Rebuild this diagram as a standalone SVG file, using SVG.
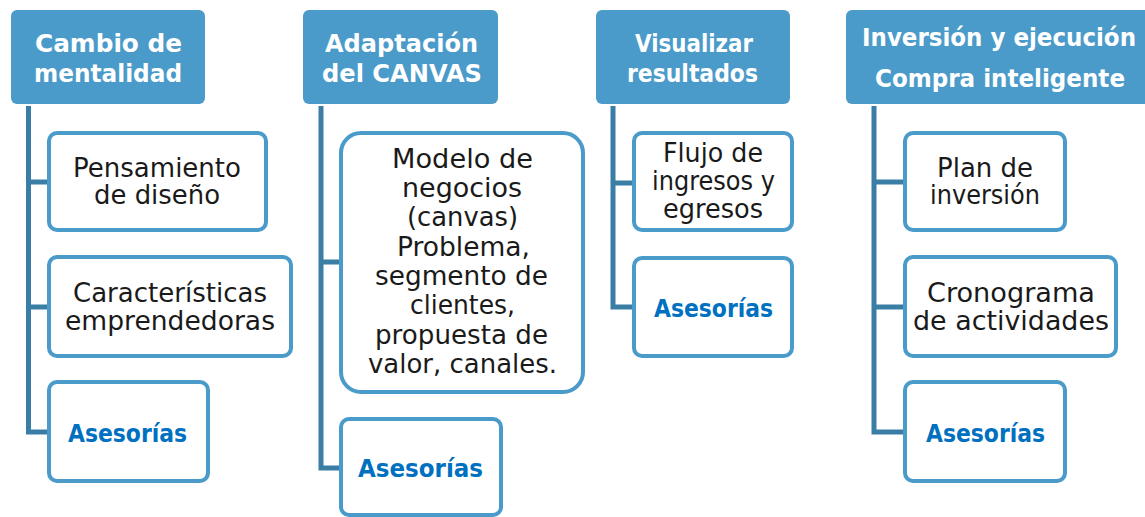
<svg xmlns="http://www.w3.org/2000/svg" width="1145" height="517" viewBox="0 0 1145 517">
<style>
.hd{fill:#4A9BCA;}
.bx{fill:#fff;stroke:#4A9BCA;stroke-width:4;}
.ln{fill:none;stroke:#3A7EA6;stroke-width:5;stroke-linejoin:miter;}
.ht{font-family:"DejaVu Sans",sans-serif;font-weight:bold;font-size:25.5px;fill:#fff;text-anchor:middle;}
.t{font-family:"DejaVu Sans",sans-serif;font-size:26px;fill:#1a1a1a;text-anchor:middle;}
.a{font-family:"DejaVu Sans",sans-serif;font-weight:bold;font-size:25px;fill:#0070C0;text-anchor:middle;}
</style>
<rect width="1145" height="517" fill="#fff"/>
<g id="connectors">
<path class="ln" d="M28.5,106 V432 H47 M28.5,182 H47 M28.5,307 H47"/>
<path class="ln" d="M321,106 V468 H339 M321,262 H339"/>
<path class="ln" d="M613,106 V307 H632 M613,183 H632"/>
<path class="ln" d="M874,106 V432 H903 M874,182 H903 M874,307 H903"/>
</g>
<g id="h1"><rect class="hd" x="11" y="10" width="194" height="94" rx="6"/>
<text class="ht" x="108.5" y="52" textLength="147" lengthAdjust="spacingAndGlyphs">Cambio de</text>
<text class="ht" x="108" y="82" textLength="148" lengthAdjust="spacingAndGlyphs">mentalidad</text></g>
<g id="c1a"><rect class="bx" x="49" y="133" width="217" height="97" rx="8"/>
<text class="t" x="157" y="177" textLength="168" lengthAdjust="spacingAndGlyphs">Pensamiento</text>
<text class="t" x="157" y="204" textLength="126" lengthAdjust="spacingAndGlyphs">de diseño</text></g>
<g id="c1b"><rect class="bx" x="49" y="257" width="242" height="99" rx="8"/>
<text class="t" x="170" y="302" textLength="194" lengthAdjust="spacingAndGlyphs">Características</text>
<text class="t" x="170" y="330" textLength="210" lengthAdjust="spacingAndGlyphs">emprendedoras</text></g>
<g id="c1c"><rect class="bx" x="49" y="382" width="159" height="99" rx="8"/>
<text class="a" x="127.5" y="442" textLength="119" lengthAdjust="spacingAndGlyphs">Asesorías</text></g>

<g id="h2"><rect class="hd" x="303" y="10" width="195" height="94" rx="6"/>
<text class="ht" x="401.5" y="52" textLength="153" lengthAdjust="spacingAndGlyphs">Adaptación</text>
<text class="ht" x="402" y="82" textLength="160" lengthAdjust="spacingAndGlyphs">del CANVAS</text></g>
<g id="c2a"><rect class="bx" x="341" y="133" width="242" height="259" rx="20"/>
<text class="t" x="462.5" y="168" textLength="141" lengthAdjust="spacingAndGlyphs">Modelo de</text>
<text class="t" x="462" y="197" textLength="120" lengthAdjust="spacingAndGlyphs">negocios</text>
<text class="t" x="462.5" y="226" textLength="111" lengthAdjust="spacingAndGlyphs">(canvas)</text>
<text class="t" x="463.5" y="256" textLength="133" lengthAdjust="spacingAndGlyphs">Problema,</text>
<text class="t" x="461.5" y="285" textLength="173" lengthAdjust="spacingAndGlyphs">segmento de</text>
<text class="t" x="462.5" y="314" textLength="105" lengthAdjust="spacingAndGlyphs">clientes,</text>
<text class="t" x="461.5" y="344" textLength="173" lengthAdjust="spacingAndGlyphs">propuesta de</text>
<text class="t" x="462.5" y="373" textLength="189" lengthAdjust="spacingAndGlyphs">valor, canales.</text></g>
<g id="c2b"><rect class="bx" x="341" y="419" width="160" height="96" rx="8"/>
<text class="a" x="420.5" y="477" textLength="125" lengthAdjust="spacingAndGlyphs">Asesorías</text></g>

<g id="h3"><rect class="hd" x="596" y="10" width="194" height="94" rx="6"/>
<text class="ht" x="694" y="52" textLength="118" lengthAdjust="spacingAndGlyphs">Visualizar</text>
<text class="ht" x="692.5" y="82" textLength="131" lengthAdjust="spacingAndGlyphs">resultados</text></g>
<g id="c3a"><rect class="bx" x="634" y="133" width="158" height="97" rx="8"/>
<text class="t" x="713" y="162" textLength="100" lengthAdjust="spacingAndGlyphs">Flujo de</text>
<text class="t" x="713.5" y="190" textLength="123" lengthAdjust="spacingAndGlyphs">ingresos y</text>
<text class="t" x="713" y="218" textLength="100" lengthAdjust="spacingAndGlyphs">egresos</text></g>
<g id="c3b"><rect class="bx" x="634" y="258" width="158" height="98" rx="8"/>
<text class="a" x="713.5" y="317" textLength="119" lengthAdjust="spacingAndGlyphs">Asesorías</text></g>

<g id="h4"><path class="hd" d="M852,10 H1145 V104 H852 A6,6 0 0 1 846,98 V16 A6,6 0 0 1 852,10 Z"/>
<text class="ht" x="999" y="46" textLength="274" lengthAdjust="spacingAndGlyphs">Inversión y ejecución</text>
<text class="ht" x="1000" y="87" textLength="250" lengthAdjust="spacingAndGlyphs">Compra inteligente</text></g>
<g id="c4a"><rect class="bx" x="905" y="133" width="160" height="97" rx="8"/>
<text class="t" x="985" y="177" textLength="96" lengthAdjust="spacingAndGlyphs">Plan de</text>
<text class="t" x="985" y="204" textLength="110" lengthAdjust="spacingAndGlyphs">inversión</text></g>
<g id="c4b"><rect class="bx" x="905" y="257" width="211" height="99" rx="8"/>
<text class="t" x="1011" y="302" textLength="168" lengthAdjust="spacingAndGlyphs">Cronograma</text>
<text class="t" x="1011" y="330" textLength="196" lengthAdjust="spacingAndGlyphs">de actividades</text></g>
<g id="c4c"><rect class="bx" x="905" y="382" width="160" height="99" rx="8"/>
<text class="a" x="985.5" y="442" textLength="119" lengthAdjust="spacingAndGlyphs">Asesorías</text></g>
</svg>
